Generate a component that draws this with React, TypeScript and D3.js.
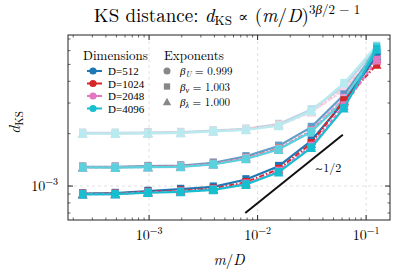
import * as d3 from "d3";

const W = 397;
const H = 274;
const MARGIN = { top: 35, right: 7, bottom: 54, left: 68 };

// m/D sample points
const ratios = [1 / 4096, 1 / 2048, 1 / 1024, 1 / 512, 1 / 256, 1 / 128, 1 / 64, 1 / 32, 1 / 16, 1 / 8];

const dims = ["D=512", "D=1024", "D=2048", "D=4096"];
const COLORS = ["#1f77b4", "#d62728", "#e377c2", "#17becf"];
const DASHES = ["none", "5,2,1.5,2", "4,2", "none"];

// three bands (faded -> solid), one row per dimension
const bandUpper = [
  [2.02e-3, 2.02e-3, 2.03e-3, 2.04e-3, 2.08e-3, 2.13e-3, 2.27e-3, 2.75e-3, 3.75e-3, 6.2e-3],
  [2.01e-3, 2.01e-3, 2.02e-3, 2.03e-3, 2.07e-3, 2.12e-3, 2.25e-3, 2.68e-3, 3.6e-3, 5.8e-3],
  [2.0e-3, 2.0e-3, 2.01e-3, 2.02e-3, 2.06e-3, 2.11e-3, 2.23e-3, 2.65e-3, 3.55e-3, 6.0e-3],
  [2.0e-3, 2.0e-3, 2.01e-3, 2.02e-3, 2.06e-3, 2.1e-3, 2.22e-3, 2.7e-3, 3.9e-3, 6.4e-3],
];
const bandMiddle = [
  [1.29e-3, 1.29e-3, 1.3e-3, 1.31e-3, 1.36e-3, 1.48e-3, 1.7e-3, 2.18e-3, 3.35e-3, 6.0e-3],
  [1.285e-3, 1.285e-3, 1.29e-3, 1.3e-3, 1.34e-3, 1.45e-3, 1.64e-3, 2.08e-3, 3.15e-3, 5.4e-3],
  [1.28e-3, 1.28e-3, 1.285e-3, 1.295e-3, 1.335e-3, 1.44e-3, 1.63e-3, 2.07e-3, 3.2e-3, 5.8e-3],
  [1.28e-3, 1.275e-3, 1.285e-3, 1.29e-3, 1.33e-3, 1.43e-3, 1.62e-3, 2.05e-3, 3.1e-3, 6.3e-3],
];
const bandLower = [
  [9.05e-4, 9.1e-4, 9.35e-4, 9.6e-4, 9.9e-4, 1.09e-3, 1.3e-3, 1.82e-3, 3.05e-3, 5.6e-3],
  [9.0e-4, 9.05e-4, 9.25e-4, 9.4e-4, 9.65e-4, 1.05e-3, 1.25e-3, 1.76e-3, 3.1e-3, 5.0e-3],
  [8.98e-4, 9.0e-4, 9.2e-4, 9.3e-4, 9.55e-4, 1.03e-3, 1.22e-3, 1.7e-3, 2.9e-3, 5.3e-3],
  [8.95e-4, 8.98e-4, 9.15e-4, 9.25e-4, 9.5e-4, 1.02e-3, 1.2e-3, 1.66e-3, 2.8e-3, 6.1e-3],
];
const bands = [bandUpper, bandMiddle, bandLower];
const bandAlpha = [0.3, 0.7, 1];

const exponents = [
  { sym: "circle", sub: "U", val: "0.999" },
  { sym: "square", sub: "ν", val: "1.003" },
  { sym: "triangle", sub: "λ", val: "1.000" },
];

// ~1/2 guide line
const guideX = [7.7e-3, 6.1e-2];
const guideY0 = 7.0e-4;

const FONT = { fontFamily: '"Latin Modern Roman", "Liberation Serif", serif' };
const TIGHT = { fontFamily: '"Liberation Serif", serif' };
const SYM = { fontFamily: '"DejaVu Serif", serif' };

function Marker({ sym, x, y, color, size }: any) {
  if (sym === "circle") return <circle cx={x} cy={y} r={size * 0.5} fill={color} />;
  if (sym === "square")
    return <rect x={x - size * 0.45} y={y - size * 0.45} width={size * 0.9} height={size * 0.9} fill={color} />;
  const s = size * 0.6;
  return <path d={`M${x},${y - s}L${x + s},${y + s * 0.75}L${x - s},${y + s * 0.75}Z`} fill={color} />;
}

export default function App() {
  const bw = W - MARGIN.left - MARGIN.right;
  const bh = H - MARGIN.top - MARGIN.bottom;

  const x = d3.scaleLog().domain([1.79e-4, 0.166]).range([0, bw]);
  const y = d3.scaleLog().domain([6.38e-4, 7.38e-3]).range([bh, 0]);

  const line = d3
    .line<number>()
    .x((_, i) => x(ratios[i]))
    .y((d) => y(d));

  const xMajor = [1e-3, 1e-2, 1e-1];
  const yMajor = [1e-3];
  const minorOf = (dom: number[]) => {
    const out: number[] = [];
    for (let e = -5; e <= 0; e++)
      for (let k = 2; k <= 9; k++) {
        const v = k * Math.pow(10, e);
        if (v > dom[0] && v < dom[1]) out.push(v);
      }
    return out;
  };
  const xMinor = minorOf(x.domain());
  const yMinor = minorOf(y.domain());

  const guide = guideX.map((gx) => [x(gx), y(guideY0 * Math.sqrt(gx / guideX[0]))]);

  return (
    <svg width={W} height={H} style={{ position: "absolute", left: 0, top: 0 }}>
      <rect width={W} height={H} fill="white" />
      <text x={227} y={22} textAnchor="middle" fontSize={19} style={FONT}>
        KS distance:{" "}
        <tspan fontStyle="italic">d</tspan>
        <tspan fontSize={13} dy={3}>KS</tspan>
        <tspan dy={-3}> </tspan>
        <tspan style={SYM} fontSize={15}>∝</tspan>
        <tspan> (</tspan>
        <tspan fontStyle="italic">m</tspan>/<tspan fontStyle="italic">D</tspan>)
        <tspan fontSize={13} dy={-8}>3</tspan>
        <tspan fontSize={13} fontStyle="italic">β</tspan>
        <tspan fontSize={13}>/2 − 1</tspan>
      </text>
      <g transform={`translate(${MARGIN.left},${MARGIN.top})`}>
        {/* grid */}
        {xMajor.map((v) => (
          <line key={"gx" + v} x1={x(v)} x2={x(v)} y1={0} y2={bh} stroke="#ccc" strokeDasharray="3,3" strokeWidth={0.6} />
        ))}
        {yMajor.map((v) => (
          <line key={"gy" + v} x1={0} x2={bw} y1={y(v)} y2={y(v)} stroke="#ccc" strokeDasharray="3,3" strokeWidth={0.6} />
        ))}

        {/* data */}
        {bands.map((band, b) => (
          <g key={b} opacity={bandAlpha[b]}>
            {band.map((vals, j) => (
              <g key={j}>
                <path d={line(vals) || ""} fill="none" stroke={COLORS[j]} strokeWidth={2.2} strokeDasharray={DASHES[j]} />
                {vals.map((v, i) => (
                  <g key={i}>
                    <Marker sym="circle" x={x(ratios[i])} y={y(v)} color={COLORS[j]} size={7} />
                    <Marker sym="square" x={x(ratios[i])} y={y(v * 1.01)} color={COLORS[j]} size={8} />
                    <Marker sym="triangle" x={x(ratios[i])} y={y(v * 0.99)} color={COLORS[j]} size={8} />
                  </g>
                ))}
              </g>
            ))}
          </g>
        ))}

        {/* guide line */}
        <line x1={guide[0][0]} y1={guide[0][1]} x2={guide[1][0]} y2={guide[1][1]} stroke="#111" strokeWidth={2} />
        <text x={guide[1][0] - 28} y={guide[1][1] + 37} fontSize={12} style={FONT}>
          <tspan style={SYM} fontSize={10}>∼</tspan>1/2
        </text>

        {/* frame and ticks */}
        <rect width={bw} height={bh} fill="none" stroke="#222" strokeWidth={1} />
        {xMajor.map((v) => (
          <g key={"xt" + v}>
            <line x1={x(v)} x2={x(v)} y1={bh} y2={bh - 5} stroke="#222" />
            <line x1={x(v)} x2={x(v)} y1={0} y2={5} stroke="#222" />
            <text x={x(v)} y={bh + 20} textAnchor="middle" fontSize={14} style={FONT}>
              10<tspan fontSize={10} dy={-6}>−{Math.round(-Math.log10(v))}</tspan>
            </text>
          </g>
        ))}
        {xMinor.map((v) => (
          <g key={"xm" + v}>
            <line x1={x(v)} x2={x(v)} y1={bh} y2={bh - 2.5} stroke="#222" strokeWidth={0.7} />
            <line x1={x(v)} x2={x(v)} y1={0} y2={2.5} stroke="#222" strokeWidth={0.7} />
          </g>
        ))}
        {yMajor.map((v) => (
          <g key={"yt" + v}>
            <line x1={0} x2={5} y1={y(v)} y2={y(v)} stroke="#222" />
            <line x1={bw} x2={bw - 5} y1={y(v)} y2={y(v)} stroke="#222" />
            <text x={-10} y={y(v) + 5} textAnchor="end" fontSize={14} style={FONT}>
              10<tspan fontSize={10} dy={-6}>−3</tspan>
            </text>
          </g>
        ))}
        {yMinor.map((v) => (
          <g key={"ym" + v}>
            <line x1={0} x2={2.5} y1={y(v)} y2={y(v)} stroke="#222" strokeWidth={0.7} />
            <line x1={bw} x2={bw - 2.5} y1={y(v)} y2={y(v)} stroke="#222" strokeWidth={0.7} />
          </g>
        ))}

        {/* axis labels */}
        <text x={bw / 2} y={bh + 45} textAnchor="middle" fontSize={15} style={FONT}>
          <tspan fontStyle="italic">m</tspan>/<tspan fontStyle="italic">D</tspan>
        </text>
        <text transform={`translate(${-48},${bh / 2 - 5}) rotate(-90)`} textAnchor="middle" fontSize={16} style={FONT}>
          <tspan fontStyle="italic">d</tspan>
          <tspan fontSize={11} dy={3}>KS</tspan>
        </text>

        {/* legend: dimensions */}
        <text x={15} y={25} fontSize={13} style={FONT}>Dimensions</text>
        {dims.map((d, j) => (
          <g key={d} transform={`translate(0,${36 + j * 12.5})`}>
            <line x1={19} x2={34} y1={0} y2={0} stroke={COLORS[j]} strokeWidth={2} />
            <circle cx={25} cy={0} r={3.6} fill={COLORS[j]} />
            <text x={40} y={4} fontSize={11} style={TIGHT}>{d}</text>
          </g>
        ))}
        {/* legend: exponents */}
        <text x={96} y={25} fontSize={13} style={FONT}>Exponents</text>
        {exponents.map((e, k) => (
          <g key={e.sub} transform={`translate(0,${36 + k * 15.5})`}>
            <Marker sym={e.sym} x={99} y={0} color="#888" size={7} />
            <text x={112} y={4} fontSize={11} style={FONT}>
              <tspan fontStyle="italic">β</tspan>
              <tspan fontSize={8} dy={2} fontStyle="italic">{e.sub}</tspan>
              <tspan dy={-2}> = {e.val}</tspan>
            </text>
          </g>
        ))}
      </g>
    </svg>
  );
}
